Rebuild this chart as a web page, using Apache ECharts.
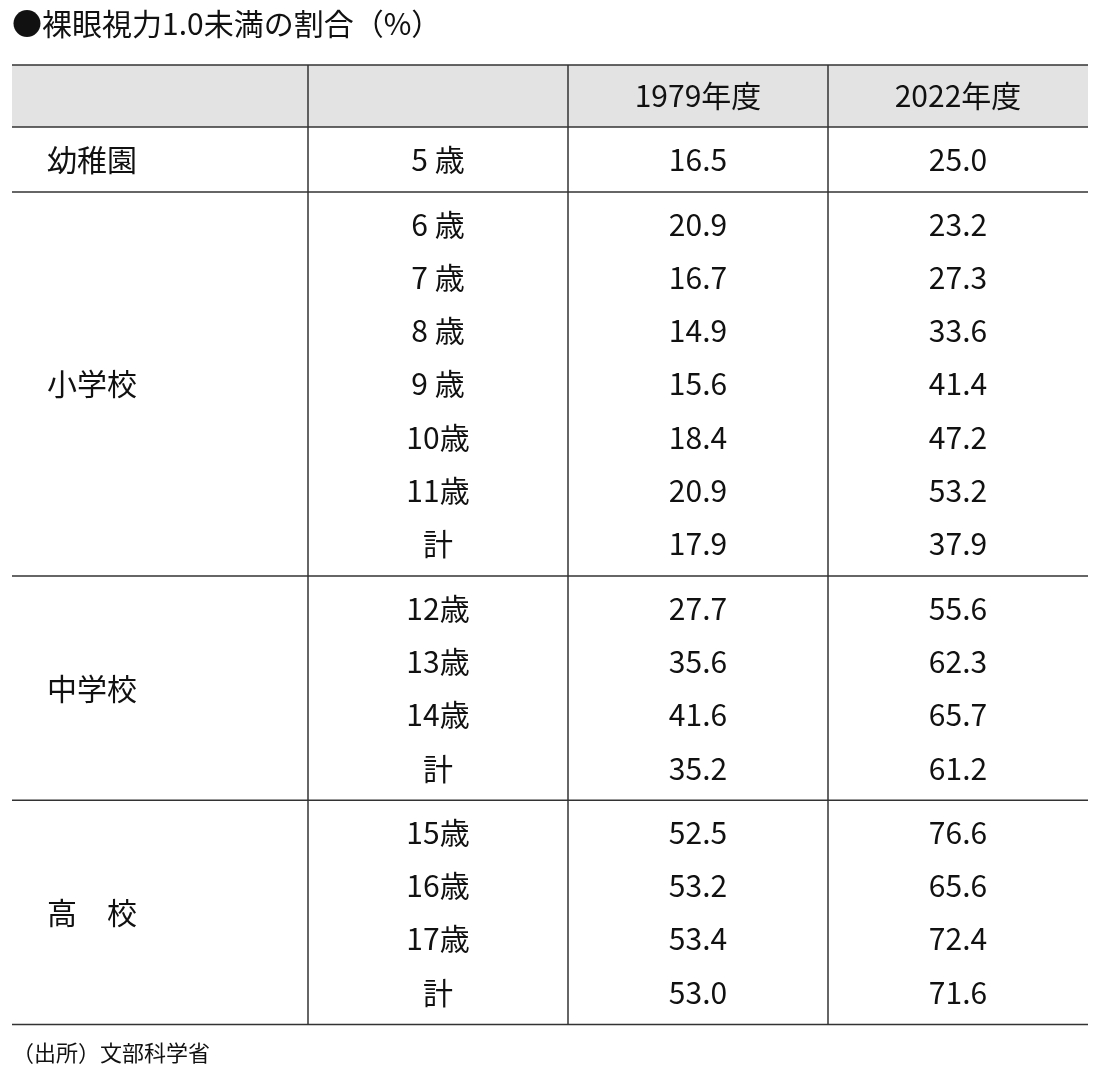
<!DOCTYPE html>
<html><head><meta charset="utf-8">
<script src="https://cdn.jsdelivr.net/npm/echarts@6/dist/echarts.min.js"></script>
<style>html,body{margin:0;padding:0;background:#fff}#c{width:1103px;height:1076px}</style>
</head><body><div id="c"></div>
<script>
const title = '●裸眼視力1.0未満の割合（%）';
const source = '（出所）文部科学省';
const headers = ['', '', '1979年度', '2022年度'];
const groups = ['幼稚園', '小学校', '中学校', '高　校'];
const groupRows = [
  ['5 歳'],
  ['6 歳','7 歳','8 歳','9 歳','10歳','11歳','計'],
  ['12歳','13歳','14歳','計'],
  ['15歳','16歳','17歳','計']
];
const v1979 = [[16.5],[20.9,16.7,14.9,15.6,18.4,20.9,17.9],[27.7,35.6,41.6,35.2],[52.5,53.2,53.4,53.0]];
const v2022 = [[25.0],[23.2,27.3,33.6,41.4,47.2,53.2,37.9],[55.6,62.3,65.7,61.2],[76.6,65.6,72.4,71.6]];

// layout (pixels)
const colX = [12, 308, 568, 828, 1088];
const headTop = 65, headH = 62, rowH = 53.3, pad = 5.5, firstRowH = 65;
const font = '"Noto Sans CJK JP", "Noto Sans", sans-serif';

const cells = [];   // [x, y, text, align]
const hlines = [headTop, headTop + headH];
const colC = i => (colX[i] + colX[i + 1]) / 2;
headers.forEach((h, i) => { if (h) cells.push([colC(i), headTop + headH / 2, h, 'center']); });
let y = headTop + headH;
groups.forEach((g, gi) => {
  const rows = groupRows[gi];
  let top = y, inner, h;
  if (gi === 0) { h = firstRowH; inner = [y + h / 2]; }
  else { h = pad * 2 + rows.length * rowH; inner = rows.map((_, r) => y + pad + rowH * (r + 0.5)); }
  cells.push([47, top + h / 2, g, 'left']);
  rows.forEach((r, ri) => {
    cells.push([438, inner[ri], r, 'center']);
    cells.push([colC(2), inner[ri], v1979[gi][ri].toFixed(1), 'center']);
    cells.push([colC(3), inner[ri], v2022[gi][ri].toFixed(1), 'center']);
  });
  y += h;
  hlines.push(y);
});
const tableBottom = y;

const chart = echarts.init(document.getElementById('c'));
chart.setOption({
  animation: false,
  grid: { left: 0, top: 0, width: 1103, height: 1076 },
  xAxis: { type: 'value', min: 0, max: 1103, show: false },
  yAxis: { type: 'value', min: 0, max: 1076, inverse: true, show: false },
  series: [
    { type: 'custom', data: [[0]], renderItem: (p, api) => {
        const a = api.coord([colX[0], headTop]), b = api.coord([colX[4], headTop + headH]);
        return { type: 'rect', shape: { x: a[0], y: a[1], width: b[0] - a[0], height: b[1] - a[1] }, style: { fill: '#e3e3e3' } };
      } },
    { type: 'custom', data: hlines.map(v => [v]), renderItem: (p, api) => {
        const a = api.coord([colX[0], api.value(0)]), b = api.coord([colX[4], api.value(0)]);
        return { type: 'line', shape: { x1: a[0], y1: a[1], x2: b[0], y2: b[1] }, style: { stroke: '#333', lineWidth: 1.5 } };
      } },
    { type: 'custom', data: colX.slice(1, 4).map(v => [v]), renderItem: (p, api) => {
        const a = api.coord([api.value(0), headTop]), b = api.coord([api.value(0), tableBottom]);
        return { type: 'line', shape: { x1: a[0], y1: a[1], x2: b[0], y2: b[1] }, style: { stroke: '#333', lineWidth: 1.5 } };
      } },
    { type: 'custom', data: cells, renderItem: (p, api) => {
        const c = cells[p.dataIndex], pt = api.coord([c[0], c[1]]);
        return { type: 'text', x: pt[0], y: pt[1], style: { text: c[2], align: c[3], verticalAlign: 'middle', fill: '#111', font: '30px ' + font } };
      } },
    { type: 'custom', data: [[0], [1]], renderItem: (p, api) => {
        const t = p.dataIndex === 0 ? [12, 24, title, 30] : [12, 1053, source, 22];
        const pt = api.coord([t[0], t[1]]);
        return { type: 'text', x: pt[0], y: pt[1], style: { text: t[2], align: 'left', verticalAlign: 'middle', fill: '#111', font: t[3] + 'px ' + font } };
      } }
  ]
});
</script></body></html>
